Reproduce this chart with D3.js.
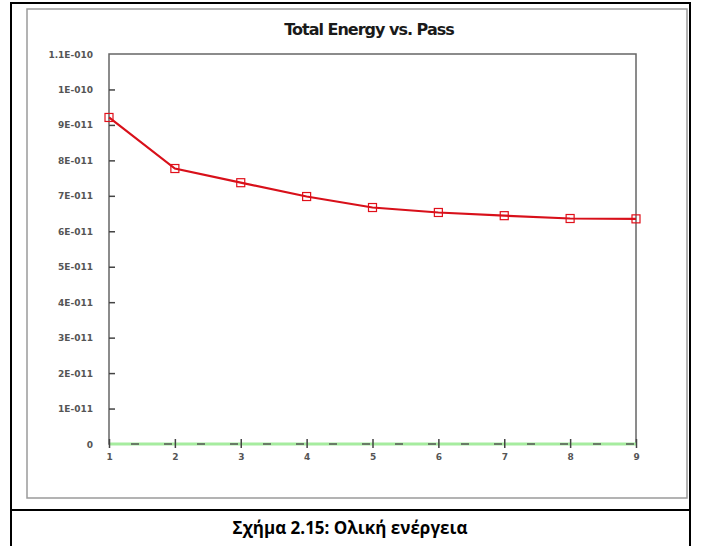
<!DOCTYPE html>
<html>
<head>
<meta charset="utf-8">
<script src="https://cdn.jsdelivr.net/npm/d3@7"></script>
<style>
  body { margin: 0; background: #fff; }
  svg { display: block; }
</style>
</head>
<body>
<svg width="701" height="546"></svg>
<script>
/* global d3 */
// data
var passes = [1, 2, 3, 4, 5, 6, 7, 8, 9];
var totalEnergy = [9.21e-11, 7.77e-11, 7.37e-11, 6.98e-11, 6.67e-11, 6.53e-11, 6.44e-11, 6.36e-11, 6.35e-11];
var zeroSeries = [0, 0, 0, 0, 0, 0, 0, 0, 0];
var yTicks = [0, 1e-11, 2e-11, 3e-11, 4e-11, 5e-11, 6e-11, 7e-11, 8e-11, 9e-11, 1e-10, 1.1e-10];
var yTickLabels = ['0', '1E-011', '2E-011', '3E-011', '4E-011', '5E-011', '6E-011', '7E-011', '8E-011', '9E-011', '1E-010', '1.1E-010'];
var title = 'Total Energy vs. Pass';
var caption = 'Σχήμα 2.15: Ολική ενέργεια';

var svg = d3.select('svg');

// table cell border + caption row
svg.append('rect')
  .attr('x', 11).attr('y', 3)
  .attr('width', 679).attr('height', 560)
  .attr('fill', 'none').attr('stroke', '#000').attr('stroke-width', 2);
svg.append('line')
  .attr('x1', 11).attr('x2', 690).attr('y1', 510).attr('y2', 510)
  .attr('stroke', '#000').attr('stroke-width', 2);

// picture frame
svg.append('rect')
  .attr('x', 27).attr('y', 9)
  .attr('width', 660).attr('height', 489)
  .attr('fill', '#fff').attr('stroke', '#9a9a9a').attr('stroke-width', 1.5);

svg.append('text')
  .attr('x', 350).attr('y', 534)
  .attr('text-anchor', 'middle')
  .attr('font-family', 'Open Sans, Noto Sans, sans-serif')
  .attr('font-weight', 'bold')
  .attr('font-size', 17)
  .text(caption);

svg.append('text')
  .attr('x', 369).attr('y', 35)
  .attr('text-anchor', 'middle')
  .attr('font-family', 'DejaVu Sans, sans-serif')
  .attr('font-size', 16)
  .attr('font-weight', 'bold')
  .attr('letter-spacing', -1)
  .attr('fill', '#1a1a1a')
  .text(title);

var x = d3.scaleLinear().domain([1, 9]).range([109, 636]);
var y = d3.scaleLinear().domain([0, 1.1e-10]).range([444, 54]);

// plot frame
svg.append('rect')
  .attr('x', x(1)).attr('y', y(1.1e-10))
  .attr('width', x(9) - x(1)).attr('height', y(0) - y(1.1e-10))
  .attr('fill', 'none').attr('stroke', '#666').attr('stroke-width', 1.5);

// y axis: ticks pointing inward
var yAxis = d3.axisRight(y)
  .tickValues(yTicks.slice(1, -1))
  .tickSize(6)
  .tickFormat('');
svg.append('g')
  .attr('transform', 'translate(' + x(1) + ',0)')
  .call(yAxis)
  .call(g => g.select('.domain').remove())
  .call(g => g.selectAll('line').attr('stroke', '#444').attr('stroke-width', 1.5));

svg.append('g').selectAll('text')
  .data(yTicks).enter()
  .append('text')
  .attr('x', 93)
  .attr('y', d => y(d) + 3.5)
  .attr('text-anchor', 'end')
  .attr('font-family', 'DejaVu Sans, sans-serif')
  .attr('font-size', 9)
  .attr('font-weight', 'bold')
  .attr('fill', '#555')
  .text((d, i) => yTickLabels[i]);

// zero series (green) with dashed overlay
var line = d3.line()
  .x((d, i) => x(passes[i]))
  .y(d => y(d));

svg.append('path')
  .datum(zeroSeries)
  .attr('d', line)
  .attr('fill', 'none')
  .attr('stroke', '#a6ec9f')
  .attr('stroke-width', 3);
svg.append('path')
  .datum(zeroSeries)
  .attr('d', line)
  .attr('fill', 'none')
  .attr('stroke', '#555')
  .attr('stroke-width', 1.5)
  .attr('stroke-dasharray', '8,25')
  .attr('stroke-dashoffset', -22);

// x axis ticks crossing the baseline
var xAxis = d3.axisBottom(x)
  .tickValues(passes)
  .tickSize(4)
  .tickFormat(d3.format('d'));
svg.append('g')
  .attr('transform', 'translate(0,' + y(0) + ')')
  .call(xAxis)
  .call(g => g.select('.domain').remove())
  .call(g => g.selectAll('line').attr('y1', -5).attr('stroke', '#444').attr('stroke-width', 1.5))
  .call(g => g.selectAll('text')
    .attr('y', 10)
    .attr('font-family', 'DejaVu Sans, sans-serif')
    .attr('font-size', 9)
    .attr('font-weight', 'bold')
    .attr('fill', '#555'));

// total energy series
svg.append('path')
  .datum(totalEnergy)
  .attr('d', line)
  .attr('fill', 'none')
  .attr('stroke', '#d8101a')
  .attr('stroke-width', 2.2);

svg.append('g').selectAll('rect')
  .data(totalEnergy).enter()
  .append('rect')
  .attr('x', (d, i) => x(passes[i]) - 4)
  .attr('y', d => y(d) - 4)
  .attr('width', 8).attr('height', 8)
  .attr('fill', 'none')
  .attr('stroke', '#e0101a')
  .attr('stroke-width', 1.2);
</script>
</body>
</html>
